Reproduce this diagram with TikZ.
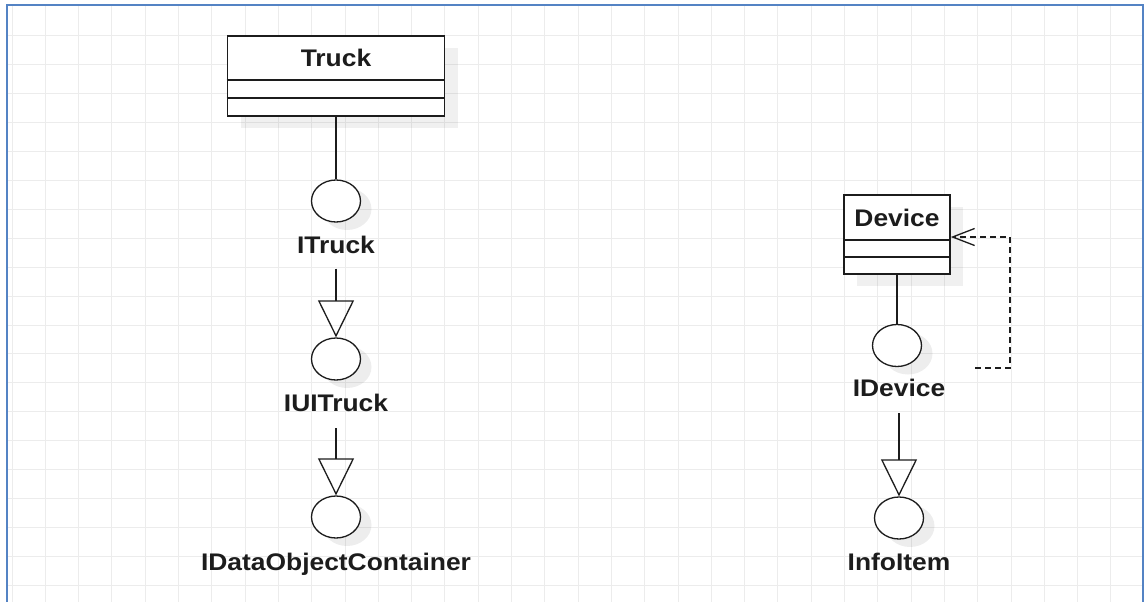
\documentclass[tikz,border=0pt]{standalone}
\usepackage{fontspec}
\setmainfont{Liberation Sans}[FakeStretch=1.1]
\usetikzlibrary{arrows.meta,shapes.geometric,shadows,calc}
\definecolor{frameblue}{RGB}{84,131,196}
\definecolor{gridgray}{RGB}{236,236,236}
\definecolor{ink}{RGB}{28,28,28}
\begin{document}
\begin{tikzpicture}[x=1pt,y=-1pt,
  classbox/.style={draw=ink, line width=1.6pt, fill=white, inner sep=0pt,
    drop shadow={shadow xshift=13pt, shadow yshift=-12pt, fill=black, opacity=.06}},
  iface/.style={ellipse, draw=ink, line width=1.3pt, fill=white,
    minimum width=49pt, minimum height=42pt, inner sep=0pt,
    drop shadow={shadow xshift=11pt, shadow yshift=-8pt, fill=black, opacity=.07}},
  lbl/.style={font=\bfseries\fontsize{24}{24}\selectfont, text=ink, inner sep=0pt,
    text height=17pt, text depth=0pt},
  compart/.style={draw=ink, line width=1.6pt},
  assoc/.style={draw=ink, line width=1.3pt},
  realize/.style={draw=ink, line width=1.3pt,
    -{Triangle[open, length=37pt, width=36pt]}},
  dep/.style={draw=ink, line width=1.3pt, dash pattern=on 6pt off 4pt,
    -{Straight Barb[length=22pt, width=17pt]}}]

\useasboundingbox (0,0) rectangle (1144,602);
\fill[white] (0,0) rectangle (1144,602);

% background grid
\foreach \k in {0,...,33}
  \draw[gridgray, line width=1pt] ({12+33.3*\k},6) -- ({12+33.3*\k},602);
\foreach \k in {1,...,20}
  \draw[gridgray, line width=1pt] (8,{7.1+28.9*\k}) -- (1143,{7.1+28.9*\k});

% page frame
\draw[frameblue, line width=2pt] (7,602) -- (7,5) -- (1143,5) -- (1143,602);

% ---- Truck and its interfaces ----
\node[classbox, minimum width=217pt, minimum height=80pt] (truck) at (336,76) {};
\draw[compart] ($(truck.north west)+(0,45)$) -- ($(truck.north east)+(0,45)$);
\draw[compart] ($(truck.north west)+(0,63)$) -- ($(truck.north east)+(0,63)$);
\node[lbl] (trucktitle) at (336,58) {Truck};

\node[iface] (itruck) at (336,201) {};
\node[lbl] (itrucklab) at (336,245) {ITruck};

\node[iface] (iuitruck) at (336,359) {};
\node[lbl] (iuitrucklab) at (336,403) {IUITruck};

\node[iface] (idoc) at (336,517) {};
\node[lbl] (idoclab) at (336,562) {IDataObjectContainer};

\draw[assoc] (truck.south) -- (itruck.north);
\draw[realize, shorten <=15pt] (itrucklab.south) -- (iuitruck.north);
\draw[realize, shorten <=16.5pt] (iuitrucklab.south) -- (idoc.north);

% ---- Device and its interfaces ----
\node[classbox, minimum width=106pt, minimum height=79pt] (device) at (897,234.5) {};
\draw[compart] ($(device.north west)+(0,46)$) -- ($(device.north east)+(0,46)$);
\draw[compart] ($(device.north west)+(0,63)$) -- ($(device.north east)+(0,63)$);
\node[lbl] (devicetitle) at (897,218) {Device};

\node[iface] (idevice) at (897,345.5) {};
\node[lbl] (idevicelab) at (899,388) {IDevice};

\node[iface] (infoitem) at (899,518) {};
\node[lbl] (infoitemlab) at (899,562) {InfoItem};

\draw[assoc] (device.south) -- (idevice.north);
\draw[realize, shorten <=16.5pt] (idevicelab.south) -- (infoitem.north);

\coordinate (depstart) at (975,368);
\draw[dep] (depstart) -- ++(35,0) |- ($(device.east)+(0,2.5)$);
\end{tikzpicture}
\end{document}
